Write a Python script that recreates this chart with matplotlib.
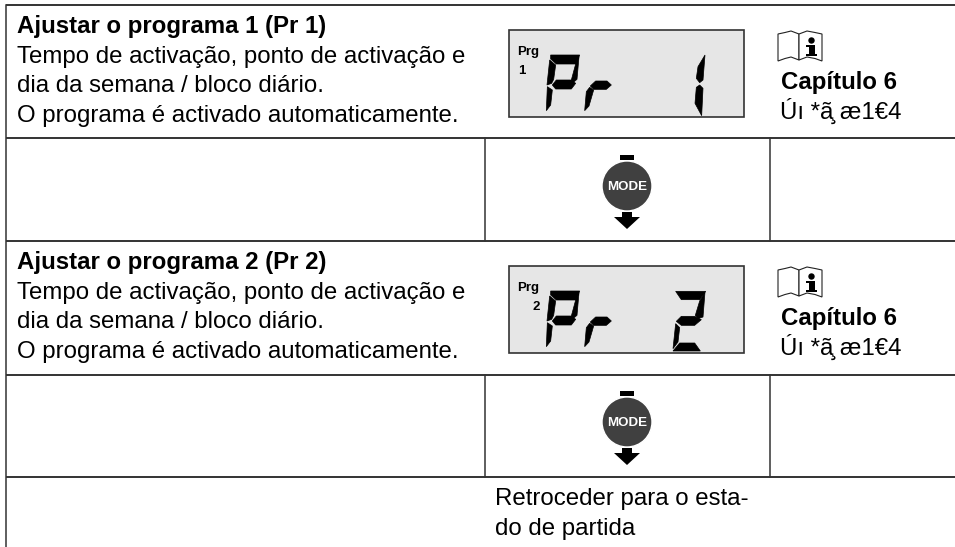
import matplotlib
matplotlib.use('Agg')
import matplotlib.pyplot as plt
from matplotlib.patches import Circle, Polygon, Rectangle

plt.rcParams['font.family'] = ['Liberation Sans', 'DejaVu Sans']

titles = ['Ajustar o programa 1 (Pr 1)', 'Ajustar o programa 2 (Pr 2)']
body_lines = ['Tempo de activação, ponto de activação e',
              'dia da semana / bloco diário.',
              'O programa é activado automaticamente.']
chapter = 'Capítulo 6'
garbled = 'Úı *ã̧ æ1€4'
back_lines = ['Retroceder para o esta-', 'do de partida']
prog_numbers = ['1', '2']
button_label = 'MODE'

# segment shapes, 3x zoom px relative to the lcd box corner
P_SEGS = [[(125, 75), (212, 75), (202, 102), (142, 102), (125, 87)],
          [(122, 90), (140, 105), (134, 148), (128, 160), (114, 165)],
          [(210, 80), (204, 148), (192, 158), (187, 150), (200, 102)],
          [(130, 165), (142, 150), (187, 150), (200, 160), (187, 177), (140, 177)],
          [(115, 170), (130, 180), (125, 225), (112, 242)]]
R_SEGS = [[(242, 172), (254, 180), (240, 228), (227, 242), (232, 185)],
          [(244, 168), (260, 153), (294, 153), (307, 165), (292, 178), (254, 178)]]
ONE_SEGS = [[(588, 75), (582, 150), (572, 158), (562, 145), (567, 110)],
            [(562, 172), (572, 165), (582, 175), (578, 257), (558, 220)]]
TWO_SEGS = [[(500, 76), (590, 76), (572, 101), (517, 101)],
            [(588, 78), (582, 153), (567, 158), (559, 148), (572, 105)],
            [(502, 166), (517, 151), (557, 151), (577, 161), (557, 178), (517, 178)],
            [(500, 173), (512, 185), (507, 228), (492, 248)],
            [(492, 255), (512, 231), (557, 231), (574, 255)]]
digit_segs = [ONE_SEGS, TWO_SEGS]

LINE = '#333333'
DARK = '#404040'
FS = 17.3


def draw_lcd(ax, x, y, digit, segs):
    ax.add_patch(Rectangle((x, y), 235, 87, fc='#e6e6e6', ec=LINE, lw=1.2))
    for seg in P_SEGS + R_SEGS + segs:
        pts = [(x + px / 3, y + py / 3) for px, py in seg]
        ax.add_patch(Polygon(pts, fc='black', ec='black', lw=0.5))
    ax.text(x + 8, y + 25, 'Prg', fontsize=9.5, fontweight='bold', va='baseline')
    dx = 9 if digit == '1' else 23
    ax.text(x + dx, y + 44, digit, fontsize=9.5, fontweight='bold', va='baseline')


def draw_book(ax, x, y):
    # x, y = left top of the icon
    left = [(x, y + 4), (x + 7, y + 2.5), (x + 13, y + 1), (x + 21, y + 4), (x + 21, y + 30),
            (x + 13, y + 27), (x + 7, y + 28.5), (x, y + 31)]
    right = [(x + 21, y + 4), (x + 29, y + 1), (x + 37, y + 2.5), (x + 44, y + 4), (x + 44, y + 31),
             (x + 37, y + 28.5), (x + 29, y + 27), (x + 21, y + 30)]
    for pts in (left, right):
        ax.add_patch(Polygon(pts, fc='white', ec='#222222', lw=0.8))
    # the i on the right page
    ax.add_patch(Circle((x + 33.5, y + 10.5), 3.2, fc='black', ec='none'))
    ax.add_patch(Rectangle((x + 30.5, y + 15), 6, 9, fc='black', ec='none'))
    ax.add_patch(Rectangle((x + 28, y + 15), 4, 2, fc='black', ec='none'))
    ax.add_patch(Rectangle((x + 28, y + 23.5), 11, 2.5, fc='black', ec='none'))


def draw_button(ax, cx, cy):
    ax.add_patch(Rectangle((cx - 7, cy - 31), 14, 4.5, fc='black', ec='none'))
    ax.add_patch(Circle((cx, cy), 25, fc=DARK, ec='white', lw=1))
    ax.text(cx, cy + 0.5, button_label, color='white', fontsize=9.6, fontweight='bold',
            ha='center', va='center')
    ax.add_patch(Rectangle((cx - 5, cy + 26), 10, 6, fc='black', ec='none'))
    ax.add_patch(Polygon([(cx - 13, cy + 31), (cx + 13, cy + 31), (cx, cy + 43)], fc='black', ec='none'))


fig = plt.figure(figsize=(9.55, 5.47), dpi=100)
ax = fig.add_axes([0, 0, 1, 1])
ax.set_xlim(0, 955)
ax.set_ylim(547, 0)
ax.axis('off')

for y in (5, 138, 241, 375, 477):
    ax.plot([6, 955], [y, y], color=LINE, lw=1.4, solid_capstyle='butt')
ax.plot([6, 6], [5, 547], color=LINE, lw=1.1)
for x in (484.5, 769.5):
    ax.plot([x, x], [138, 241], color=LINE, lw=1.1)
    ax.plot([x, x], [375, 477], color=LINE, lw=1.1)

for i, off in enumerate((0, 236)):
    ax.text(17, 33 + off, titles[i], fontsize=FS, fontweight='bold', va='baseline')
    for j, line in enumerate(body_lines):
        ax.text(17, 63 + off + j * 29.5, line, fontsize=FS, va='baseline')
    draw_lcd(ax, 509, 30 + off, prog_numbers[i], digit_segs[i])
    draw_book(ax, 778, 30 + off)
    ax.text(781, 89 + off, chapter, fontsize=FS, fontweight='bold', va='baseline')
    ax.text(780, 119 + off, garbled, fontsize=FS, va='baseline')
    draw_button(ax, 627, 186 + off)

for j, line in enumerate(back_lines):
    ax.text(495, 505 + j * 29.5, line, fontsize=FS, va='baseline')

fig.savefig('out.png', dpi=100)
